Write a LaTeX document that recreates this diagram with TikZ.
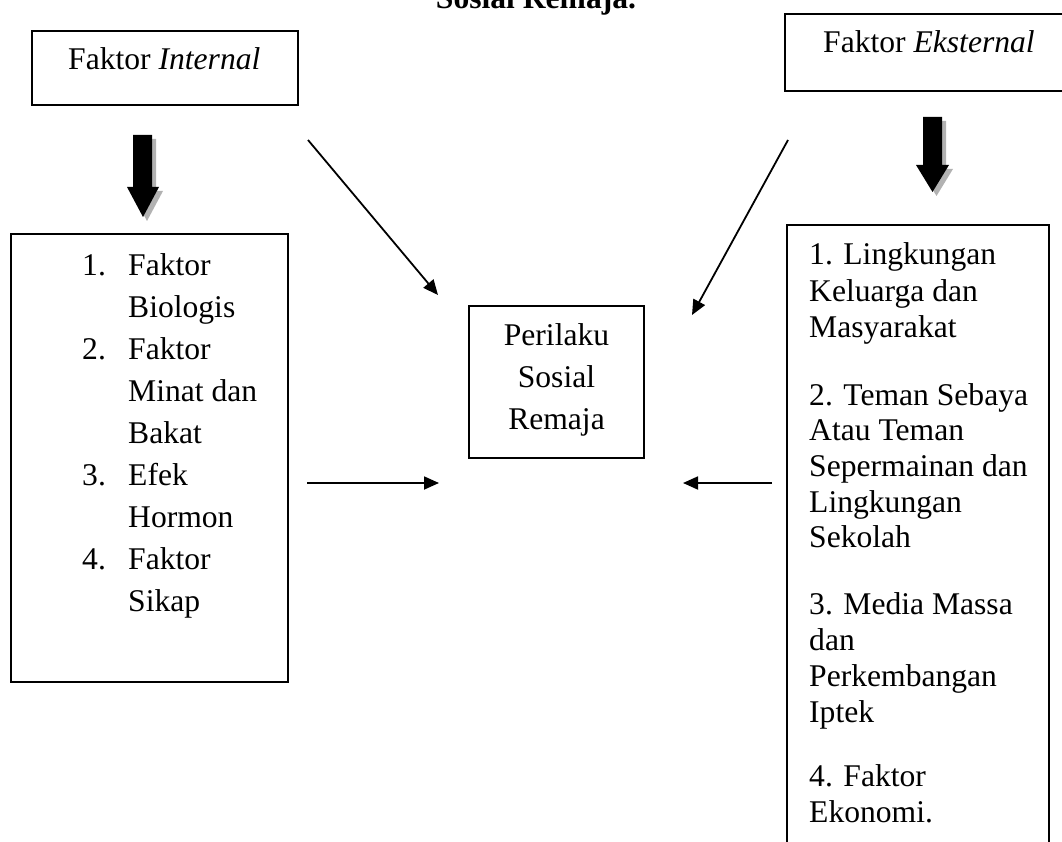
\documentclass[tikz,border=0pt]{standalone}
\usepackage{fontspec}
\setmainfont{Liberation Serif}
\usetikzlibrary{arrows.meta}
\begin{document}
\begin{tikzpicture}[x=1pt,y=-1pt,
  box/.style={draw, line width=2.2pt, inner sep=0pt, outer sep=0pt, anchor=north west},
  txt/.style={inner sep=0pt, anchor=base west, font=\fontsize{31.6}{36}\selectfont},
  ctxt/.style={inner sep=0pt, anchor=base, font=\fontsize{31.6}{36}\selectfont},
  thinarrow/.style={line width=1.8pt, -{Triangle[length=15pt,width=13pt]}},
  bigarrow/.style={fill=black},
  bigshadow/.style={fill=black!30}]
\useasboundingbox (0,0) rectangle (1062,842);
\clip (0,0) rectangle (1062,842);

% title (cut off at the top)
\node[ctxt, font=\fontsize{31.6}{36}\selectfont\bfseries] (title) at (536,9) {Sosial Remaja.};

% top boxes
\node[box, minimum width=266pt, minimum height=74pt] (intbox) at (32,31) {};
\node[txt] (intlbl) at (68,70) {Faktor \textit{Internal}};
\node[box, minimum width=300pt, minimum height=77pt] (extbox) at (785,14) {};
\node[txt] (extlbl) at (823,53) {Faktor \textit{Eksternal}};

% centre box
\node[box, minimum width=175pt, minimum height=152pt] (center) at (469,306) {};
\node[ctxt] (c1) at (556.5,345) {Perilaku};
\node[ctxt] (c2) at (556.5,387) {Sosial};
\node[ctxt] (c3) at (556.5,429) {Remaja};

% left list box
\node[box, minimum width=277pt, minimum height=448pt] (intlist) at (11,234) {};
\node[txt] (n1) at (82,275) {1.};
\node[txt] (l1a) at (128,275) {Faktor};
\node[txt] (l1b) at (128,317) {Biologis};
\node[txt] (n2) at (82,359) {2.};
\node[txt] (l2a) at (128,359) {Faktor};
\node[txt] (l2b) at (128,401) {Minat dan};
\node[txt] (l2c) at (128,443) {Bakat};
\node[txt] (n3) at (82,485) {3.};
\node[txt] (l3a) at (128,485) {Efek};
\node[txt] (l3b) at (128,527) {Hormon};
\node[txt] (n4) at (82,569) {4.};
\node[txt] (l4a) at (128,569) {Faktor};
\node[txt] (l4b) at (128,611) {Sikap};

% right list box (runs past the bottom edge)
\node[box, minimum width=262pt, minimum height=640pt] (extlist) at (787,225) {};
\node[txt] (r1a) at (809,265) {1. Lingkungan};
\node[txt] (r1b) at (809,301) {Keluarga dan};
\node[txt] (r1c) at (809,337) {Masyarakat};
\node[txt] (r2a) at (809,405) {2. Teman Sebaya};
\node[txt] (r2b) at (809,440) {Atau Teman};
\node[txt] (r2c) at (809,476) {Sepermainan dan};
\node[txt] (r2d) at (809,512) {Lingkungan};
\node[txt] (r2e) at (809,547) {Sekolah};
\node[txt] (r3a) at (809,614) {3. Media Massa};
\node[txt] (r3b) at (809,650) {dan};
\node[txt] (r3c) at (809,686) {Perkembangan};
\node[txt] (r3d) at (809,722) {Iptek};
\node[txt] (r4a) at (809,786) {4. Faktor};
\node[txt] (r4b) at (809,822) {Ekonomi.};

% thick block arrows with shadow
\fill[bigshadow] (137,139) -- (156,139) -- (156,191) -- (163,191) -- (147,221) -- (131,191) -- (137,191) -- cycle;
\fill[bigarrow] (133,135) -- (152,135) -- (152,187) -- (159,187) -- (143,217) -- (127,187) -- (133,187) -- cycle;
\fill[bigshadow] (927,121) -- (946,121) -- (946,169) -- (953,169) -- (936.5,196) -- (920,169) -- (927,169) -- cycle;
\fill[bigarrow] (923,117) -- (942,117) -- (942,165) -- (949,165) -- (932.5,192) -- (916,165) -- (923,165) -- cycle;

% thin arrows
\coordinate (dl1) at (308,140);
\coordinate (dl2) at (438,295);
\coordinate (dr1) at (788,140);
\coordinate (dr2) at (692,315);
\coordinate (hl1) at (307,483);
\coordinate (hl2) at (439,483);
\coordinate (hr1) at (772,483);
\coordinate (hr2) at (683,483);
\draw[thinarrow] (dl1) -- (dl2);
\draw[thinarrow] (dr1) -- (dr2);
\draw[thinarrow] (hl1) -- (hl2);
\draw[thinarrow] (hr1) -- (hr2);
\end{tikzpicture}
\end{document}
